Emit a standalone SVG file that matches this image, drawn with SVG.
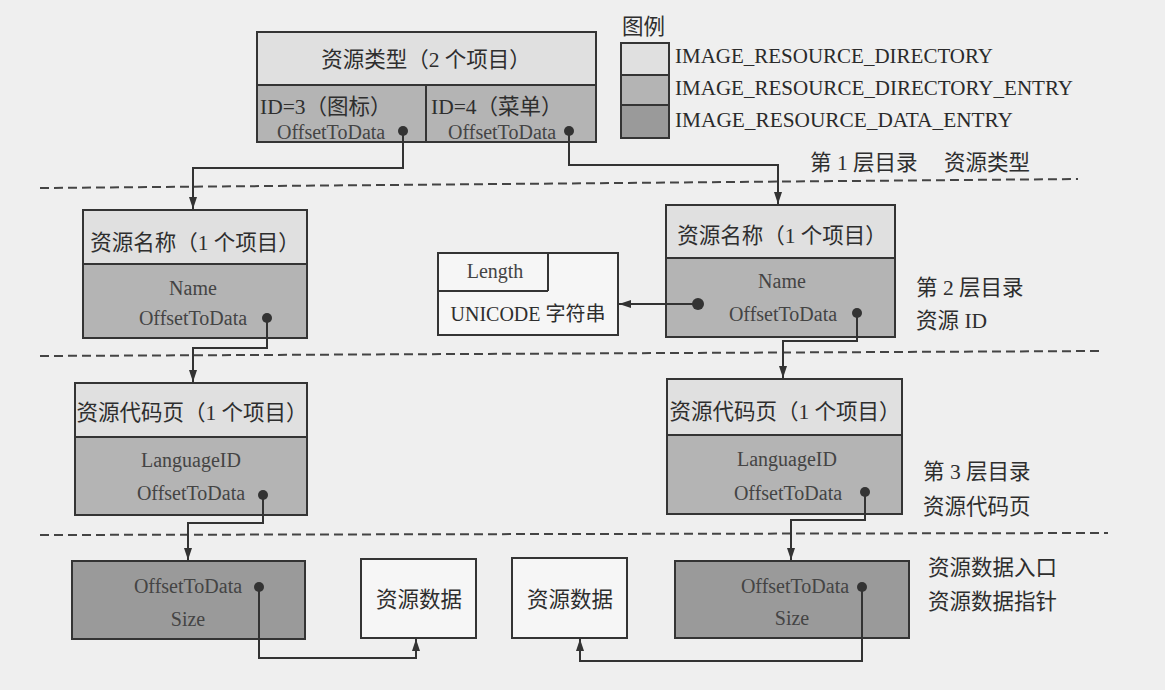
<svg xmlns="http://www.w3.org/2000/svg" width="1165" height="690" viewBox="0 0 1165 690">
  <defs>
    <marker id="arrow" viewBox="0 0 12 8" refX="12" refY="4" markerWidth="12" markerHeight="8" markerUnits="userSpaceOnUse" orient="auto">
      <path d="M0,0 L12,4 L0,8 z" fill="#333"/>
    </marker>
    <style>
      .box { stroke: #343434; stroke-width: 2; }
      .hdr { fill: #e0e0e0; }
      .ent { fill: #b4b4b4; }
      .dat { fill: #9a9a9a; }
      .plain { fill: #f6f6f6; }
      .cn { font-family: "Liberation Serif", "Noto Sans CJK SC", serif; font-size: 21.5px; fill: #2e2e2e; }
      .side { font-family: "Liberation Serif", "Noto Sans CJK SC", serif; font-size: 21.5px; fill: #2e2e2e; }
      .en { font-family: "Liberation Serif", serif; font-size: 20px; fill: #444; }
      .legend { font-family: "Liberation Serif", serif; font-size: 22px; fill: #2a2a2a; }
      .mid { text-anchor: middle; }
      .dot { fill: #333; }
      .wire { fill: none; stroke: #333; stroke-width: 2; }
      .dash { fill: none; stroke: #444; stroke-width: 2; stroke-dasharray: 9 5; }
    </style>
  </defs>

  <!-- page -->
  <rect x="0" y="0" width="1165" height="690" fill="#efefef"/>

  <!-- level separators -->
  <g id="separators">
    <line class="dash" x1="40" y1="188" x2="1078" y2="179"/>
    <line class="dash" x1="40" y1="356" x2="1100" y2="351"/>
    <line class="dash" x1="40" y1="535" x2="1108" y2="533"/>
  </g>

  <!-- legend -->
  <g id="legend">
    <text class="cn" x="622" y="34">图例</text>
    <rect class="box hdr" x="621" y="43" width="48" height="32"/>
    <rect class="box ent" x="621" y="75" width="48" height="30"/>
    <rect class="box dat" x="621" y="105" width="48" height="33"/>
    <text class="legend" x="675" y="63" textLength="318" lengthAdjust="spacingAndGlyphs">IMAGE_RESOURCE_DIRECTORY</text>
    <text class="legend" x="675" y="95" textLength="398" lengthAdjust="spacingAndGlyphs">IMAGE_RESOURCE_DIRECTORY_ENTRY</text>
    <text class="legend" x="675" y="127" textLength="338" lengthAdjust="spacingAndGlyphs">IMAGE_RESOURCE_DATA_ENTRY</text>
  </g>

  <!-- level captions -->
  <g id="captions">
    <text class="side" x="810" y="170">第 1 层目录</text>
    <text class="side" x="944" y="170">资源类型</text>
    <text class="side" x="916" y="295">第 2 层目录</text>
    <text class="side" x="916" y="328">资源 ID</text>
    <text class="side" x="923" y="479">第 3 层目录</text>
    <text class="side" x="923" y="514">资源代码页</text>
    <text class="side" x="928" y="575">资源数据入口</text>
    <text class="side" x="928" y="609">资源数据指针</text>
  </g>

  <!-- level 1: resource type directory -->
  <g id="type-dir">
    <rect class="box hdr" x="257" y="32" width="339" height="53"/>
    <rect class="box ent" x="257" y="85" width="169" height="57"/>
    <rect class="box ent" x="426" y="85" width="170" height="57"/>
    <text class="cn mid" x="426" y="67">资源类型（2 个项目）</text>
    <text class="cn" x="260" y="114">ID=3（图标）</text>
    <text class="cn" x="431" y="114">ID=4（菜单）</text>
    <text class="en" x="277" y="139">OffsetToData</text>
    <text class="en" x="448" y="139">OffsetToData</text>
    <circle class="dot" cx="403" cy="131" r="5"/>
    <circle class="dot" cx="569" cy="131" r="5"/>
  </g>

  <!-- level 2: name directory (icon) -->
  <g id="name-dir-left">
    <rect class="box hdr" x="83" y="210" width="224" height="54"/>
    <rect class="box ent" x="83" y="264" width="224" height="74"/>
    <text class="cn mid" x="195" y="250">资源名称（1 个项目）</text>
    <text class="en mid" x="193" y="295">Name</text>
    <text class="en mid" x="193" y="325">OffsetToData</text>
    <circle class="dot" cx="267" cy="318" r="5"/>
  </g>

  <!-- level 2: name directory (menu) -->
  <g id="name-dir-right">
    <rect class="box hdr" x="666" y="205" width="229" height="53"/>
    <rect class="box ent" x="666" y="258" width="229" height="79"/>
    <text class="cn mid" x="782" y="243">资源名称（1 个项目）</text>
    <text class="en mid" x="782" y="288">Name</text>
    <text class="en mid" x="783" y="321">OffsetToData</text>
    <circle class="dot" cx="698" cy="304" r="6"/>
    <circle class="dot" cx="857" cy="313" r="5"/>
  </g>

  <!-- name string -->
  <g id="name-string">
    <rect class="box plain" x="438" y="253" width="180" height="82"/>
    <line class="box" x1="438" y1="291" x2="548" y2="291"/>
    <line class="box" x1="548" y1="253" x2="548" y2="291"/>
    <text class="en mid" x="495" y="278">Length</text>
    <text class="cn mid" x="528" y="321" style="font-size:20px">UNICODE 字符串</text>
  </g>

  <!-- level 3: code page directories -->
  <g id="lang-dir-left">
    <rect class="box hdr" x="75" y="383" width="232" height="54"/>
    <rect class="box ent" x="75" y="437" width="232" height="78"/>
    <text class="cn mid" x="192" y="420">资源代码页（1 个项目）</text>
    <text class="en mid" x="191" y="467">LanguageID</text>
    <text class="en mid" x="191" y="500">OffsetToData</text>
    <circle class="dot" cx="263" cy="495" r="5"/>
  </g>

  <g id="lang-dir-right">
    <rect class="box hdr" x="667" y="379" width="235" height="56"/>
    <rect class="box ent" x="667" y="435" width="235" height="79"/>
    <text class="cn mid" x="785" y="419">资源代码页（1 个项目）</text>
    <text class="en mid" x="787" y="466">LanguageID</text>
    <text class="en mid" x="788" y="500">OffsetToData</text>
    <circle class="dot" cx="865" cy="492" r="5"/>
  </g>

  <!-- data entries -->
  <g id="data-entry-left">
    <rect class="box dat" x="72" y="561" width="233" height="78"/>
    <text class="en mid" x="188" y="593">OffsetToData</text>
    <text class="en mid" x="188" y="626">Size</text>
    <circle class="dot" cx="259" cy="587" r="5"/>
  </g>

  <g id="data-entry-right">
    <rect class="box dat" x="675" y="561" width="234" height="77"/>
    <text class="en mid" x="795" y="593">OffsetToData</text>
    <text class="en mid" x="792" y="625">Size</text>
    <circle class="dot" cx="862" cy="587" r="5"/>
  </g>

  <!-- raw resource data -->
  <g id="data-left">
    <rect class="box plain" x="361" y="559" width="115" height="79"/>
    <text class="cn mid" x="419" y="607">资源数据</text>
  </g>

  <g id="data-right">
    <rect class="box plain" x="512" y="558" width="115" height="80"/>
    <text class="cn mid" x="570" y="607">资源数据</text>
  </g>

  <!-- pointers -->
  <g id="connectors">
    <polyline class="wire" points="403,131 403,168 193,168 193,209" marker-end="url(#arrow)"/>
    <polyline class="wire" points="569,131 569,165 778,165 778,204" marker-end="url(#arrow)"/>
    <polyline class="wire" points="698,304 619,304" marker-end="url(#arrow)"/>
    <polyline class="wire" points="267,318 267,348 193,348 193,382" marker-end="url(#arrow)"/>
    <polyline class="wire" points="857,313 857,341 783,341 783,378" marker-end="url(#arrow)"/>
    <polyline class="wire" points="263,495 263,523 188,523 188,560" marker-end="url(#arrow)"/>
    <polyline class="wire" points="865,492 865,520 791,520 791,560" marker-end="url(#arrow)"/>
    <polyline class="wire" points="259,587 259,658 416,658 416,639" marker-end="url(#arrow)"/>
    <polyline class="wire" points="862,587 862,661 580,661 580,639" marker-end="url(#arrow)"/>
  </g>
</svg>
